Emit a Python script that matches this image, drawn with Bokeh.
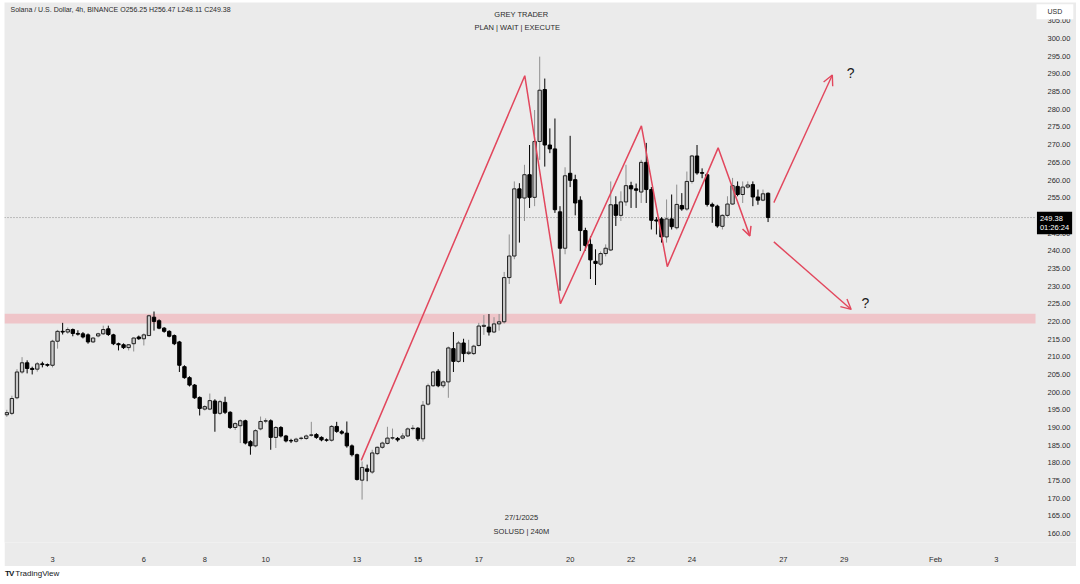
import pandas as pd
from bokeh.plotting import figure
from bokeh.models import (ColumnDataSource, Range1d, FixedTicker, PrintfTickFormatter, LinearAxis,
                          BoxAnnotation, Label, Arrow, OpenHead, Spacer, Div)
from bokeh.layouts import column, row
from bokeh.embed import file_html
from bokeh.resources import INLINE

# ---------------- data ----------------
first_bar = "2025-01-01 12:00"   # 4h bars
bar_freq = "4h"

opens = [193.6, 194.0, 198.4, 205.7, 208.3, 206.7, 206.5, 208.0, 207.8, 207.6,
         214.4, 217.2, 217.0, 217.7, 216.6, 216.5, 216.2, 214.2, 215.9, 216.5,
         217.9, 216.2, 213.7, 213.4, 212.6, 213.7, 215.6, 215.1, 216.0, 221.2,
         220.2, 218.1, 217.2, 216.0, 214.2, 207.2, 204.1, 202.0, 198.5, 195.2,
         195.2, 197.5, 194.0, 197.1, 194.3, 190.0, 190.5, 191.9, 186.0, 184.8,
         189.6, 191.8, 191.9, 187.2, 190.0, 187.6, 186.3, 186.1, 186.9, 186.9,
         187.8, 188.0, 187.2, 186.5, 186.4, 190.3, 188.8, 188.4, 184.8, 182.3,
         175.1, 178.3, 177.4, 182.6, 184.4, 185.5, 187.0, 186.9, 187.0, 187.6,
         189.7, 189.8, 186.8, 196.6, 201.8, 205.9, 201.8, 202.9, 212.3, 208.7,
         213.9, 210.9, 210.9, 213.2, 218.6, 218.4, 217.0, 219.3, 219.9, 232.4,
         238.5, 257.5, 254.9, 261.5, 255.1, 270.9, 285.6, 269.9, 268.8, 251.0,
         240.7, 261.9, 260.1, 254.3, 245.7, 241.8, 237.0, 236.2, 239.2, 240.2,
         253.0, 250.0, 253.8, 258.4, 257.5, 256.6, 265.0, 257.3, 248.7, 249.0,
         243.9, 249.0, 246.5, 252.8, 251.8, 259.6, 266.8, 262.1, 261.5, 253.1,
         252.6, 246.9, 250.0, 253.2, 258.2, 255.9, 258.0, 258.7, 255.2, 254.3,
         256.25]

highs = [195.0, 199.0, 206.5, 209.9, 209.0, 207.2, 208.5, 208.6, 208.1, 214.8,
         217.6, 219.6, 218.3, 218.0, 217.5, 217.0, 216.6, 215.5, 216.8, 218.8,
         218.8, 216.5, 214.0, 213.8, 213.6, 215.5, 216.0, 216.6, 221.9, 222.8,
         220.6, 218.4, 217.5, 216.3, 214.5, 207.6, 204.5, 202.3, 198.8, 196.3,
         199.6, 198.0, 197.8, 198.7, 194.6, 191.5, 192.3, 192.2, 186.4, 189.5,
         193.1, 192.6, 192.3, 190.4, 190.4, 187.9, 186.8, 187.1, 187.4, 188.0,
         191.6, 188.4, 187.5, 186.9, 190.7, 191.6, 189.3, 191.7, 185.2, 182.6,
         180.4, 179.5, 183.7, 184.6, 186.0, 190.2, 189.7, 187.3, 188.4, 190.0,
         190.7, 190.1, 197.5, 202.4, 206.0, 206.5, 203.3, 212.9, 217.0, 214.5,
         215.1, 214.8, 213.4, 219.6, 221.8, 222.1, 221.2, 222.1, 234.0, 244.6,
         259.6, 259.1, 264.3, 269.9, 279.8, 294.9, 288.7, 274.6, 277.4, 252.6,
         263.6, 272.5, 261.5, 255.4, 246.5, 244.1, 240.4, 239.8, 241.8, 259.6,
         255.4, 256.8, 264.3, 259.5, 259.0, 265.7, 270.5, 258.0, 249.5, 249.5,
         254.5, 255.9, 258.7, 256.3, 262.4, 267.1, 269.9, 263.3, 262.0, 253.6,
         253.0, 250.3, 255.4, 260.6, 259.6, 259.6, 259.6, 259.6, 257.3, 257.3,
         256.47]

lows = [193.0, 193.5, 198.0, 205.2, 205.3, 205.0, 205.8, 207.0, 207.2, 207.0,
        212.3, 216.3, 216.5, 215.8, 216.0, 215.2, 213.7, 213.9, 215.5, 216.2,
        215.9, 213.3, 211.8, 212.2, 211.8, 211.5, 214.8, 213.2, 216.0, 217.4,
        217.8, 216.8, 215.5, 213.3, 205.7, 203.8, 201.6, 198.1, 193.4, 194.8,
        194.9, 188.8, 193.5, 193.8, 189.6, 189.3, 185.6, 185.2, 182.3, 184.4,
        189.2, 191.2, 183.7, 184.2, 187.2, 185.8, 185.6, 185.7, 186.4, 186.5,
        187.4, 186.8, 186.1, 186.0, 186.0, 188.5, 188.0, 184.3, 181.8, 175.0,
        169.6, 174.8, 176.9, 182.2, 184.0, 185.2, 186.5, 186.0, 186.7, 187.3,
        189.2, 186.2, 186.0, 196.2, 201.5, 201.4, 201.2, 198.4, 205.7, 208.3,
        208.5, 210.5, 210.5, 212.9, 216.2, 216.0, 216.7, 217.4, 219.4, 230.6,
        237.6, 242.3, 248.4, 252.1, 252.6, 265.7, 263.8, 267.6, 250.7, 228.7,
        239.0, 258.0, 250.0, 239.9, 240.0, 232.0, 230.3, 235.7, 238.4, 239.9,
        247.0, 248.4, 252.7, 252.1, 252.1, 253.5, 253.5, 246.0, 244.6, 242.3,
        242.3, 246.0, 246.0, 251.3, 251.3, 259.0, 261.5, 260.5, 252.5, 247.9,
        246.5, 246.0, 249.6, 253.0, 255.4, 253.5, 257.6, 252.6, 253.0, 254.0,
        248.11]

closes = [194.2, 198.2, 205.7, 208.3, 206.7, 206.4, 208.0, 207.8, 207.6, 214.4,
          217.2, 217.0, 217.7, 216.6, 216.4, 215.6, 214.2, 215.3, 216.5, 217.7,
          216.3, 213.7, 213.4, 212.6, 213.4, 215.3, 215.1, 216.2, 221.6, 220.0,
          218.1, 217.2, 215.8, 213.7, 207.6, 204.1, 202.0, 198.4, 195.4, 195.9,
          197.6, 194.0, 197.3, 194.3, 190.0, 191.1, 191.9, 185.6, 184.8, 189.1,
          191.7, 191.9, 187.2, 190.0, 187.6, 186.2, 186.2, 186.7, 187.0, 187.6,
          187.9, 187.2, 186.5, 186.4, 190.3, 188.9, 188.4, 184.8, 182.3, 175.3,
          178.7, 177.6, 182.8, 184.4, 185.6, 187.0, 187.1, 186.5, 187.6, 189.6,
          189.8, 186.8, 196.3, 201.8, 205.7, 201.8, 202.9, 212.5, 208.7, 213.9,
          210.9, 211.3, 213.0, 218.7, 218.9, 217.0, 219.3, 219.9, 232.4, 238.5,
          257.5, 254.9, 261.5, 255.1, 270.9, 285.4, 269.9, 268.8, 251.6, 240.7,
          261.2, 259.9, 253.5, 245.7, 241.5, 237.4, 236.4, 239.2, 240.7, 253.0,
          250.0, 253.8, 258.4, 257.5, 257.1, 265.0, 257.3, 248.6, 248.4, 243.9,
          249.0, 246.8, 253.1, 251.8, 259.6, 266.8, 262.0, 261.9, 253.1, 252.6,
          247.0, 250.0, 253.2, 258.4, 255.9, 258.0, 258.6, 255.2, 254.3, 256.1,
          249.38]

tick_days = [3, 6, 8, 10, 13, 15, 17, 20, 22, 24, 27, 29, 32, 34]
tick_labels = ["3", "6", "8", "10", "13", "15", "17", "20", "22", "24", "27", "29", "Feb", "3"]
price_ticks = list(range(160, 306, 5))

zone_low, zone_high = 219.4, 222.2
last_price = 249.38
countdown = "01:26:24"

zigzag_days = [13.14, 18.51, 19.68, 22.34, 23.19, 24.86, 25.90]
zigzag_prices = [180.7, 289.5, 225.0, 275.3, 235.5, 269.1, 244.2]
up_arrow_days, up_arrow_prices = [26.69, 28.61], [253.6, 289.7]
down_arrow_days, down_arrow_prices = [26.69, 29.23], [242.5, 223.4]

header = "Solana / U.S. Dollar, 4h, BINANCE  O256.25  H256.47  L248.11  C249.38"

# ---------------- layout / styling constants ----------------
BG = "#ebebeb"
RED = "#e2475d"
TXT = "#2b2b2b"
FONT = "Liberation Sans"
X_START, X_END = 1.4236, 36.629      # frame spans the whole grey panel
AXIS_DAY = 35.283                    # where the price scale begins

ts = pd.date_range(first_bar, periods=len(closes), freq=bar_freq)
days = (ts - pd.Timestamp("2025-01-01")) / pd.Timedelta(days=1) + 1.0

df = pd.DataFrame(dict(t=days, o=opens, h=highs, l=lows, c=closes))
df["top"] = df[["o", "c"]].max(axis=1)
df["bot"] = df[["o", "c"]].min(axis=1)
up = ColumnDataSource(df[df.c >= df.o])
dn = ColumnDataSource(df[df.c < df.o])

p = figure(width=1072, height=564,
           x_range=Range1d(X_START, X_END), y_range=Range1d(157.47, 310.21),
           output_backend="svg", toolbar_location=None,
           y_axis_location=None, background_fill_color=BG,
           border_fill_color=BG, outline_line_color=None,
           min_border=0, min_border_bottom=21)
p.grid.grid_line_color = None

yaxis = LinearAxis(fixed_location=AXIS_DAY)
p.add_layout(yaxis, "right")

for ax in (p.xaxis[0], yaxis):
    ax.axis_line_color = None
    ax.major_tick_line_color = None
    ax.minor_tick_line_color = None
    ax.major_label_text_font_size = "7.5px"
    ax.major_label_text_color = TXT
    ax.major_label_text_font = FONT
    ax.major_label_standoff = 6

p.xaxis.ticker = FixedTicker(ticks=tick_days)
p.xaxis.major_label_overrides = {d: s for d, s in zip(tick_days, tick_labels)}
yaxis.ticker = FixedTicker(ticks=price_ticks)
yaxis.formatter = PrintfTickFormatter(format="%.2f")

# resistance zone
p.add_layout(BoxAnnotation(bottom=zone_low, top=zone_high, right=AXIS_DAY,
                           fill_color="#efc5c9", fill_alpha=1.0, line_color=None,
                           level="underlay"))
# last price dotted line
p.line([X_START, AXIS_DAY], [last_price, last_price], line_color="#8c8c8c",
       line_dash="1 2", line_width=1)

# candles
w = 0.11
p.segment("t", "l", "t", "h", source=up, line_color="#8f8f8f", line_width=1)
p.segment("t", "l", "t", "h", source=dn, line_color="#000000", line_width=1)
p.vbar(x="t", width=w, top="top", bottom="bot", source=up,
       fill_color="#c9c9c9", line_color="#1f1f1f", line_width=1)
p.vbar(x="t", width=w, top="top", bottom="bot", source=dn,
       fill_color="#000000", line_color="#000000", line_width=1)

# drawings
p.line(zigzag_days, zigzag_prices, line_color=RED, line_width=1.5)
p.add_layout(Arrow(x_start=zigzag_days[-2], y_start=zigzag_prices[-2],
                   x_end=zigzag_days[-1], y_end=zigzag_prices[-1],
                   line_color=RED, line_width=1.5, line_alpha=0.0,
                   end=OpenHead(size=9, line_color=RED, line_width=1.5)))
for xs, ys in ((up_arrow_days, up_arrow_prices), (down_arrow_days, down_arrow_prices)):
    p.add_layout(Arrow(x_start=xs[0], y_start=ys[0], x_end=xs[1], y_end=ys[1],
                       line_color=RED, line_width=1.4,
                       end=OpenHead(size=10, line_color=RED, line_width=1.4)))

p.add_layout(Label(x=29.21, y=290.2, text="?", text_font=FONT, text_font_size="14px",
                   text_color="#1a1a1a", text_align="center", text_baseline="middle"))
p.add_layout(Label(x=29.70, y=225.3, text="?", text_font=FONT, text_font_size="14px",
                   text_color="#1a1a1a", text_align="center", text_baseline="middle"))

# texts
p.add_layout(Label(x=1.62, y=308.2, text=header, text_font=FONT, text_font_size="7px",
                   text_color=TXT, text_baseline="middle"))
p.add_layout(Label(x=18.40, y=306.8, text="GREY TRADER", text_font=FONT,
                   text_font_size="7.5px", text_color=TXT, text_align="center",
                   text_baseline="middle"))
p.add_layout(Label(x=18.40, y=303.2, text="PLAN  |  WAIT  |  EXECUTE", text_font=FONT,
                   text_font_size="7.5px", text_color=TXT, text_align="center",
                   text_baseline="middle"))
p.add_layout(Label(x=18.40, y=164.5, text="27/1/2025", text_font=FONT,
                   text_font_size="7.5px", text_color=TXT, text_align="center",
                   text_baseline="middle"))
p.add_layout(Label(x=18.40, y=160.6, text="SOLUSD | 240M", text_font=FONT,
                   text_font_size="7.5px", text_color=TXT, text_align="center",
                   text_baseline="middle"))

# price-scale tags
p.add_layout(Label(x=35.92, y=307.6, text="USD", text_font=FONT, text_font_size="7px",
                   text_color=TXT, text_align="center", text_baseline="middle",
                   background_fill_color="white", padding=(11, 4)))
p.add_layout(Label(x=35.33, y=251.0, text=f"{last_price:.2f}\n{countdown}", text_font=FONT,
                   text_font_size="7.5px", text_color="white", text_align="left",
                   text_baseline="top", text_line_height=1.05,
                   background_fill_color="black", padding=(3, 2)))

logo = Div(text='<span style="font-weight:900;letter-spacing:-1px">TV</span> TradingView',
           width=200, height=18,
           styles={"font-size": "8px", "font-family": FONT, "color": "#131722",
                   "position": "relative", "top": "-3px", "left": "0px"})

layout = column(Spacer(height=2, width=1080),
                row(Spacer(width=4, height=564), p),
                logo)

open("out.html", "w").write(file_html(layout, INLINE))
